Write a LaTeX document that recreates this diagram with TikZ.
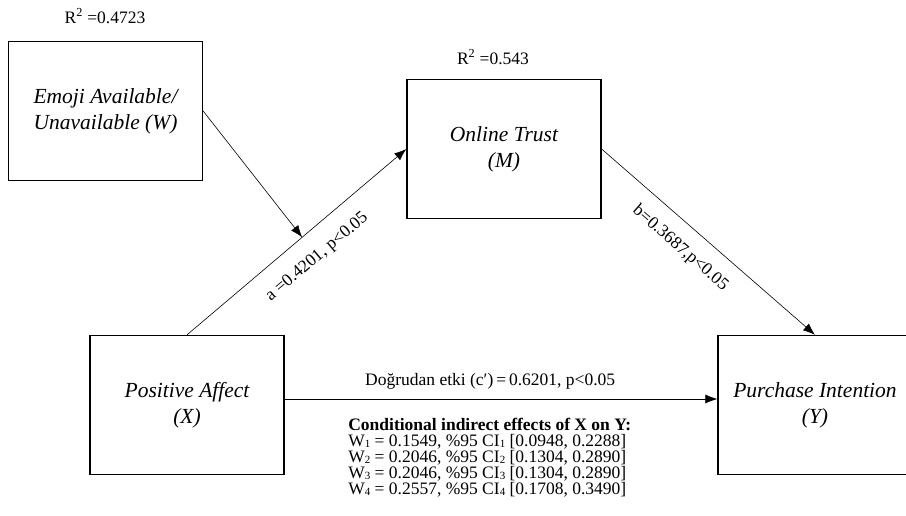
\documentclass[tikz,border=0pt]{standalone}
\usepackage{fontspec}
\setmainfont{Liberation Serif}
\usetikzlibrary{arrows.meta}
\newcommand\lowsub[1]{\raisebox{-0.1ex}{\fontsize{11}{11}\selectfont #1}}
\tikzset{
  varbox/.style={draw, line width=1.3pt, minimum width=194pt, minimum height=139pt, align=center, font=\fontsize{21.5}{26}\selectfont\itshape},
  lbl/.style={font=\fontsize{17.5}{16}\selectfont, inner sep=2pt}
}
\begin{document}
\begin{tikzpicture}[x=1pt, y=-1pt, >={Latex[length=12pt,width=9pt]}, line width=0.6pt]
            \useasboundingbox (0,0) rectangle (906,516);
            \node[varbox] (W) at (105.5,111) {Emoji Available/\\Unavailable (W)};
            \node[varbox] (M) at (504,149) {Online Trust\\(M)};
            \node[varbox] (X) at (187,405) {Positive Affect\\(X)};
            \node[varbox] (Y) at (815,405) {Purchase Intention\\(Y)};
            \node[lbl] (R2W) at (105,16) {R\textsuperscript{2} =0.4723};
            \node[lbl] (R2M) at (493,57) {R\textsuperscript{2} =0.543};
            \path (X.north) -- (M.west) coordinate[pos=0.525] (mod);
            \draw[->] (X.north) to node[lbl, pos=0.52, sloped, below=15pt] {a =0.4201, p<0.05} (M.west);
            \draw[->] (W.east) to (mod);
            \draw[->] (M.east) to node[lbl, pos=0.44, sloped, below=13pt] {b=0.3687,p<0.05} (Y.north);
            \draw[->] ([yshift=6pt]X.east) to node[lbl, pos=0.475, above=7pt] {Doğrudan etki (c′)\,=\,0.6201, p<0.05} ([yshift=6pt]Y.west);
            \node[lbl, anchor=north west, align=left, inner sep=0pt] (cond) at (348,418) {\textbf{Conditional indirect effects of X on Y:}\\
              W\lowsub{1} = 0.1549, \%95 CI\lowsub{1} [0.0948, 0.2288]\\
              W\lowsub{2} = 0.2046, \%95 CI\lowsub{2} [0.1304, 0.2890]\\
              W\lowsub{3} = 0.2046, \%95 CI\lowsub{3} [0.1304, 0.2890]\\
              W\lowsub{4} = 0.2557, \%95 CI\lowsub{4} [0.1708, 0.3490]};
        \end{tikzpicture}
\end{document}
